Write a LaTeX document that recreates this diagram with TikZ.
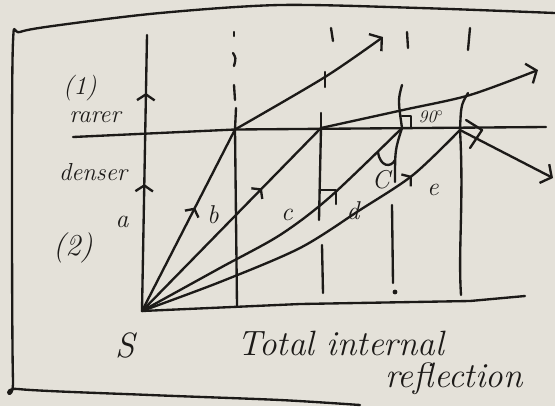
\documentclass[tikz,border=0pt]{standalone}
\usetikzlibrary{arrows.meta,decorations.markings}
\definecolor{paper}{RGB}{228,225,217}
\definecolor{inkc}{RGB}{28,26,24}
\begin{document}
\begin{tikzpicture}[x=0.03cm,y=-0.03cm,
  ink/.style={line width=2pt,line cap=round,line join=round,draw=inkc},
  tipbig/.style={-{Straight Barb[length=7pt,width=18pt,line width=2pt]}},
  midarrow/.style={postaction={decorate},decoration={markings,
     mark=at position #1 with {\arrow{Straight Barb[length=5pt,width=13pt,line width=2pt]}}}},
  lbl/.style={font=\fontsize{22}{24}\selectfont\itshape,text=inkc,inner sep=0pt},
  big/.style={font=\fontsize{30}{32}\selectfont\itshape,text=inkc,inner sep=0pt,text depth=0pt}
]
\fill[paper] (0,0) rectangle (555,406);
\useasboundingbox (0,0) rectangle (555,406);

% frame
\draw[ink] plot[smooth,tension=0.5] coordinates {(555,13) (420,8) (280,5) (160,13) (60,25) (20,32) (13,42) (12,200) (13,380) (18,389) (150,395) (280,400) (360,405)};

% named points
\coordinate (S) at (142,311);
\coordinate (B) at (235,129.5);
\coordinate (C) at (321,128);
\coordinate (D) at (402,128);
\coordinate (E) at (460,130);
\coordinate (Btip) at (383,37);
\coordinate (Ctip) at (538,70);
\coordinate (Etip) at (553,178);
\coordinate (Atop) at (147,35);

% interface and base line
\draw[ink] (73,137) -- (B) -- (546,127);
\draw[ink] (S) -- (300,304) -- (470,301) -- (525,296);

% normals (below: solid, above: dashed by hand)
\draw[ink] (B) -- (237,306);
\draw[ink] (234,32) -- (234,36);
\draw[ink] (233,53) .. controls (236,58) .. (234,66);
\draw[ink] (234,85) -- (235,100);
\draw[ink] (236,108) -- (B);

\draw[ink] (C) -- (319,220);
\draw[ink] (322,245) -- (323,293);
\draw[ink] (331,28) -- (333,41);
\draw[ink] (325,72) -- (325,87);
\draw[ink] (321,113) -- (C);

\draw[ink] (D) .. controls (395,150) .. (395,182);
\draw[ink] (392,205) -- (393,283);
\fill[inkc] (395,292) circle (2.4);
\draw[ink] (407,32) -- (408,48);
\draw[ink] (402,85) .. controls (398,100) .. (D);

\draw[ink] (E) .. controls (464,200) and (458,250) .. (461,295);
\draw[ink] (470,28) -- (468,50);
\draw[ink] (468,93) .. controls (461,105) .. (E);

% ray a (along the axis)
\draw[ink,postaction={decorate},decoration={markings,
   mark=at position 0.46 with {\arrow{Straight Barb[length=5pt,width=15pt,line width=2pt]}},
   mark=at position 0.79 with {\arrow{Straight Barb[length=5pt,width=15pt,line width=2pt]}}}]
   (S) -- (Atop);

% ray b
\draw[ink,midarrow=0.57] (S) -- (B);
\draw[ink,tipbig] plot[smooth] coordinates {(B) (325,77) (Btip)};
% ray c
\draw[ink,midarrow=0.67] (S) -- (C);
\draw[ink,tipbig] plot[smooth] coordinates {(C) (403,110) (470,95) (Ctip)};
% ray d (critical)
\draw[ink] plot[smooth] coordinates {(S) (220,268) (280,235) (330,197) (D)};
\draw[ink] (320,190) -- (336,190) -- (336,204);
\draw[ink] (402,116) -- (411,116) -- (411,128);
\draw[ink] (378,152) .. controls (380,167) and (391,168) .. (395,160);
\draw[ink] (466,120) -- (482,130) -- (470,148);
% ray e (reflected)
\draw[ink,midarrow=0.82] plot[smooth] coordinates {(S) (220,282) (300,248) (360,210) (413,175) (E)};
\draw[ink,tipbig] (E) -- (Etip);

% labels
\node[lbl] (l1) at (80,88) {(1)};
\node[lbl,font=\fontsize{21}{22}\selectfont\itshape,anchor=base] (lr) at (95,122) {rarer};
\node[lbl,font=\fontsize{21}{22}\selectfont\itshape,anchor=base] (ld) at (93,180) {denser};
\node[lbl,font=\fontsize{26}{28}\selectfont\itshape] (l2) at (73,248) {(2)};
\node[lbl] (la) at (122,222) {a};
\node[lbl] (lb) at (213,215) {b};
\node[lbl] (lc) at (287,215) {c};
\node[lbl] (ldd) at (353,211) {d};
\node[lbl] (lC) at (381,180) {C};
\node[lbl] (le) at (433,190) {e};
\node[lbl,font=\fontsize{15}{16}\selectfont\itshape] (l90) at (431,117) {90$^{\circ}$};
\node[big] (lS) at (125,345) {S};
\node[big,anchor=base west] (lt1) at (237,355) {Total internal};
\node[big,anchor=base west] (lt2) at (385,387) {reflection};
\end{tikzpicture}
\end{document}
